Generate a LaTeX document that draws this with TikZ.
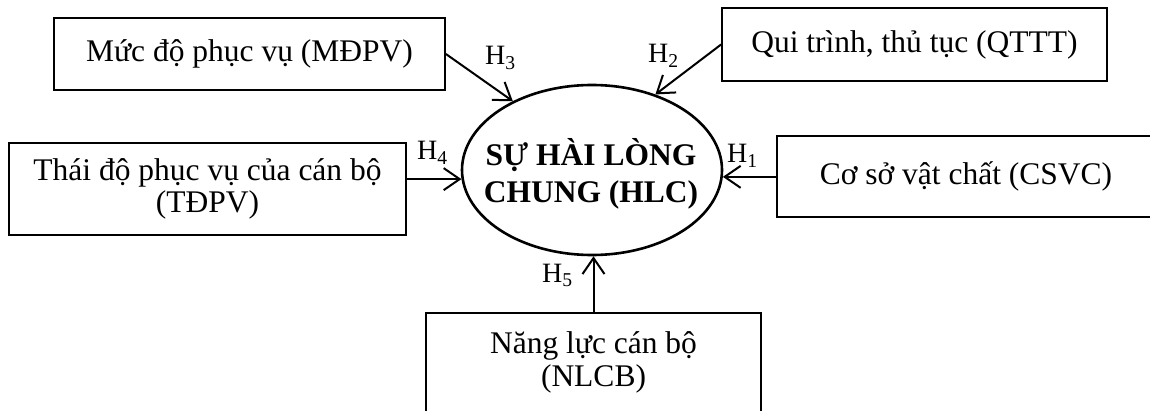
\documentclass[tikz,border=0pt]{standalone}
\usepackage{fontspec}
\setmainfont{Liberation Serif}
\usetikzlibrary{shapes.geometric,arrows.meta}
\tikzset{
  x=1pt,y=1pt,
  box/.style={draw, line width=1.8pt, rectangle, inner sep=0pt, align=center,
              font=\fontsize{31.5}{32}\selectfont},
  txt/.style={inner sep=0pt, align=center, font=\fontsize{31.5}{32}\selectfont},
  lab/.style={inner sep=0pt, anchor=base west, font=\fontsize{28}{30}\selectfont},
  arr/.style={line width=2pt, -{Straight Barb[length=16pt,width=22pt,line width=2pt]}},
}
\begin{document}
\begin{tikzpicture}
\path[use as bounding box] (0,0) rectangle (1150,410);
\fill[white] (0,0) rectangle (1150,410);
\clip (0,0) rectangle (1150,410);
% boxes
\node[box, minimum width=391, minimum height=72] (mdpv) at (249.5,356) {Mức độ phục vụ (MĐPV)};
\node[box, minimum width=385, minimum height=73] (qttt) at (914.5,365.5) {Qui trình, thủ tục (QTTT)};
\node[box, minimum width=378, minimum height=81] (csvc) at (966,233.5) {Cơ sở vật chất (CSVC)};
\node[box, minimum width=397, minimum height=92] (tdpv) at (207.5,221) {Thái độ phục vụ của cán bộ\\(TĐPV)};
\node[box, minimum width=335, minimum height=140, anchor=north] (nlcb) at (593.5,98) {};
\node[txt, anchor=base] (nlcbt) at (593.5,57) {Năng lực cán bộ};
\node[txt, anchor=base] (nlcbt2) at (593.5,24) {(NLCB)};
% ellipse
\node[draw, ellipse, line width=2.6pt, minimum width=260, minimum height=170, inner sep=0pt] (hlc) at (592,240) {};
\node[inner sep=0pt, align=center, font=\bfseries\fontsize{31.5}{37}\selectfont] (hlct) at (591,236) {SỰ HÀI LÒNG\\CHUNG (HLC)};
% arrows
\draw[arr] (mdpv.east) -- (hlc.139.6);
\draw[arr] (qttt.west) -- (hlc.50.4);
\draw[arr] (tdpv.east |- hlc.184) -- (hlc.184);
\draw[arr] (csvc.west |- hlc.357) -- (hlc.357);
\draw[arr] (nlcb.north) -- (nlcb.north |- hlc.south);
% labels
\node[lab] (h3) at (485,345) {H\textsubscript{3}};
\node[lab] (h2) at (648,347) {H\textsubscript{2}};
\node[lab] (h4) at (417,250) {H\textsubscript{4}};
\node[lab] (h1) at (727,247) {H\textsubscript{1}};
\node[lab] (h5) at (542,128) {H\textsubscript{5}};
\end{tikzpicture}
\end{document}
